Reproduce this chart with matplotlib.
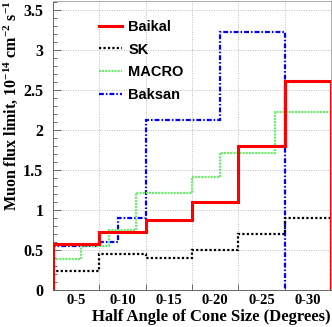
import matplotlib

matplotlib.use("Agg")

import matplotlib.pyplot as plt
from matplotlib.lines import Line2D
from matplotlib.ticker import MultipleLocator

# bin edges in degrees and the flux limit per bin (10^-14 cm^-2 s^-1)
baikal_edges = [0, 5, 10, 15, 20, 25, 30]
baikal_vals = [0.58, 0.72, 0.87, 1.10, 1.80, 2.61]

sk_edges = [0, 5, 10, 15, 20, 25, 30]
sk_vals = [0.24, 0.45, 0.40, 0.50, 0.70, 0.90]

macro_edges = [0, 3, 6, 9, 15, 18, 24, 30]
macro_vals = [0.39, 0.55, 0.75, 1.21, 1.41, 1.71, 2.22]

baksan_edges = [0, 5, 7, 10, 18, 25]
baksan_vals = [0.55, 0.60, 0.90, 2.12, 3.22]

bin_edges = [0, 5, 10, 15, 20, 25, 30]
bin_labels = ["0-5", "0-10", "0-15", "0-20", "0-25", "0-30"]

SERIF = "Liberation Serif"
SANS = "Liberation Sans"

plt.rcParams["mathtext.fontset"] = "custom"
plt.rcParams["mathtext.rm"] = "Liberation Serif:bold"
plt.rcParams["mathtext.bf"] = "Liberation Serif:bold"
plt.rcParams["mathtext.it"] = "Liberation Serif:bold"

BLUE_LS = (0, (2.2, 0.9, 0.7, 0.9))
GREEN_LS = (0, (0.9, 0.5))
BLACK_LS = (0, (1, 1))


def main() -> int:
    fig = plt.figure(figsize=(3.32, 3.27), dpi=100)
    ax = fig.add_axes([0.16, 0.113, 0.837, 0.884])

    ax.stairs(baksan_vals, baksan_edges, baseline=0, color="#0000ff", linewidth=1.6,
              linestyle=BLUE_LS, zorder=3)
    ax.stairs(macro_vals, macro_edges, baseline=0, color="#66ee66", linewidth=1.6,
              linestyle=GREEN_LS, zorder=4)
    ax.stairs(sk_vals, sk_edges, baseline=0, color="black", linewidth=1.6,
              linestyle=BLACK_LS, zorder=5)
    ax.stairs(baikal_vals, baikal_edges, baseline=0, color="#ff0000", linewidth=2.2, zorder=6)

    ax.set_xlim(0, 30)
    ax.set_ylim(0, 3.61)

    ax.set_xticks(bin_edges)
    ax.set_xticklabels([""] * len(bin_edges))
    centers = [(a + b) / 2 for a, b in zip(bin_edges[:-1], bin_edges[1:])]
    ax.set_xticks(centers, minor=True)
    ax.set_xticklabels(bin_labels, minor=True)
    for lab in ax.get_xticklabels(minor=True):
        lab.set_fontfamily(SERIF)
        lab.set_fontweight("bold")
        lab.set_fontsize(10.5)
    ax.tick_params(axis="x", which="minor", length=0, pad=3)
    ax.tick_params(axis="x", which="major", direction="in", length=4, width=0.6, color="#555555")

    ax.set_yticks([0, 0.5, 1, 1.5, 2, 2.5, 3, 3.5])
    ax.set_yticklabels(["0", "0.5", "1", "1.5", "2", "2.5", "3", "3.5"])
    ax.yaxis.set_minor_locator(MultipleLocator(0.1))
    for lab in ax.get_yticklabels():
        lab.set_fontfamily(SERIF)
        lab.set_fontweight("bold")
        lab.set_fontsize(11.5)
    ax.tick_params(axis="y", which="major", direction="in", length=6, width=0.6, color="#555555", pad=7)
    ax.tick_params(axis="y", which="minor", direction="in", length=3, width=0.6, color="#555555")

    ax.grid(True, which="major", linestyle=(0, (1, 1.5)), color="#bbbbbb", linewidth=0.7)
    ax.set_axisbelow(True)
    for side, spine in ax.spines.items():
        spine.set_linewidth(0.7)
        spine.set_color("#666666" if side in ("left", "bottom") else "#aaaaaa")

    ax.set_xlabel("Half Angle of Cone Size (Degrees)", fontfamily=SERIF, fontweight="bold",
                  fontsize=12, loc="right", labelpad=1)
    ax.set_ylabel(r"Muon flux limit, 10$^{-14}$ cm$^{-2}$ s$^{-1}$",
                  fontfamily=SERIF, fontweight="bold", fontsize=11.5, loc="top", labelpad=2)

    handles = [
        Line2D([], [], color="#ff0000", linewidth=2.2),
        Line2D([], [], color="black", linewidth=1.6, linestyle=BLACK_LS),
        Line2D([], [], color="#66ee66", linewidth=1.6, linestyle=GREEN_LS),
        Line2D([], [], color="#0000ff", linewidth=1.6, linestyle=BLUE_LS),
    ]
    ax.legend(handles, ["Baikal", "SK", "MACRO", "Baksan"], loc="upper left",
              bbox_to_anchor=(0.165, 0.935), frameon=False, borderpad=0, borderaxespad=0,
              handlelength=1.6, handletextpad=0.4, labelspacing=0.6,
              prop={"family": SANS, "weight": "bold", "size": 10.5})

    fig.savefig("out.png", dpi=100)
    plt.close(fig)
    return 0


if __name__ == "__main__":
    raise SystemExit(main())
